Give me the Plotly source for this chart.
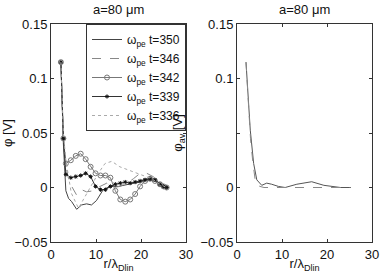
import plotly.graph_objects as go

# ---- data ----
r350 = [2.2, 2.75, 3.3, 3.9, 4.6, 5.7, 6.8, 7.9, 9.0, 10.1, 11.6, 13.1, 15.0, 16.9, 18.4, 19.9, 21.4, 22.9, 24.4, 25.7]
phi350 = [0.115, 0.040, -0.003, -0.010, -0.013, -0.020, -0.016, -0.015, -0.016, -0.012, -0.002, 0.001, 0.001, 0.003, 0.004, 0.005, 0.007, 0.006, 0.003, 0.0]

r346 = [2.2, 2.75, 3.4, 4.0, 4.6, 5.7, 6.8, 7.9, 9.4, 10.9, 12.4, 13.9, 15.3, 16.9, 18.3, 19.8, 21.3, 22.7, 24.2, 25.7]
phi346 = [0.115, 0.045, 0.018, 0.006, 0.001, -0.007, -0.002, -0.004, -0.003, 0.001, 0.004, 0.000, 0.001, 0.004, 0.008, 0.013, 0.013, 0.010, 0.005, 0.0]

r342 = [2.2, 2.75, 3.3, 4.4, 5.5, 6.6, 7.7, 8.8, 9.9, 11.0, 12.1, 13.2, 14.3, 15.4, 16.5, 17.6, 18.7, 19.8, 20.9, 22.0, 23.1, 24.2, 25.0, 25.7]
phi342 = [0.115, 0.045, 0.022, 0.025, 0.029, 0.031, 0.026, 0.019, 0.013, 0.011, 0.011, 0.009, -0.003, -0.011, -0.013, -0.011, -0.006, 0.001, 0.006, 0.008, 0.006, 0.003, 0.001, 0.0]

r339 = [2.2, 2.75, 3.3, 4.4, 5.5, 6.6, 7.7, 8.8, 9.9, 11.0, 12.1, 13.2, 14.3, 15.4, 16.5, 17.6, 18.7, 19.8, 20.9, 22.0, 23.1, 24.2, 25.0, 25.7]
phi339 = [0.115, 0.045, 0.012, 0.009, 0.010, 0.011, 0.013, 0.010, 0.001, -0.002, -0.002, 0.001, 0.003, 0.004, 0.005, 0.004, 0.005, 0.006, 0.007, 0.008, 0.007, 0.003, 0.001, 0.0]

r336 = [2.2, 2.75, 3.3, 4.5, 6.1, 7.2, 8.7, 10.5, 12.0, 13.5, 15.3, 17.2, 19.0, 20.5, 22.4, 24.2, 25.7]
phi336 = [0.115, 0.05, 0.025, -0.005, -0.019, -0.011, 0.001, 0.013, 0.022, 0.024, 0.019, 0.016, 0.013, 0.011, 0.008, 0.003, 0.0]

r_av = [2.0, 2.95, 3.7, 4.4, 5.5, 6.6, 7.7, 9.2, 10.7, 13.3, 16.6, 19.3, 23.0, 24.8, 25.3]
phi_av = [0.115, 0.0526, 0.022, 0.007, 0.002, 0.004, 0.003, 0.001, 0.000, 0.003, 0.0053, 0.002, 0.0, 0.0, 0.0]

r_av2 = [2.0, 3.0, 3.5, 4.1, 4.6, 5.1, 6.0, 10.0, 15.0, 20.0, 25.0]
phi_av2 = [0.115, 0.045, 0.024, 0.005, 0.002, 0.001, 0.0, 0.0, 0.0, 0.0, 0.0]

x_ticks = [0, 10, 20, 30]
y_ticks = [-0.05, 0, 0.05, 0.1, 0.15]
y_ticklabels = ["\u22120.05", "0", "0.05", "0.1", "0.15"]
y_ticklabels_right = ["\u22120.05", "0", "", "0.1", "0.15"]  # 0.05 hidden under the axis title
legend_names = ["\u03c9<sub>pe</sub> t=350", "\u03c9<sub>pe</sub> t=346", "\u03c9<sub>pe</sub> t=342",
                "\u03c9<sub>pe</sub> t=339", "\u03c9<sub>pe</sub> t=336"]

FONT = "Liberation Sans, Arial, sans-serif"
FS = 13
TXT = "#111111"
fig = go.Figure()

fig.add_trace(go.Scatter(x=r350, y=phi350, mode="lines", name=legend_names[0],
                         line=dict(color="#444444", width=1)))
fig.add_trace(go.Scatter(x=r346, y=phi346, mode="lines", name=legend_names[1],
                         line=dict(color="#888888", width=1, dash="dash")))
fig.add_trace(go.Scatter(x=r342, y=phi342, mode="lines+markers", name=legend_names[2],
                         line=dict(color="#777777", width=1),
                         marker=dict(symbol="circle-open", size=5, color="#777777", line=dict(width=1))))
fig.add_trace(go.Scatter(x=r339, y=phi339, mode="lines+markers", name=legend_names[3],
                         line=dict(color="#333333", width=1),
                         marker=dict(symbol="asterisk-open", size=3.5, color="#111111", line=dict(width=1))))
fig.add_trace(go.Scatter(x=r336, y=phi336, mode="lines", name=legend_names[4],
                         line=dict(color="#aaaaaa", width=1, dash="dot")))

fig.add_trace(go.Scatter(x=r_av, y=phi_av, mode="lines", showlegend=False,
                         line=dict(color="#555555", width=1), xaxis="x2", yaxis="y2"))
fig.add_trace(go.Scatter(x=r_av2, y=phi_av2, mode="lines", showlegend=False,
                         line=dict(color="#888888", width=1, dash="dash"), xaxis="x2", yaxis="y2"))

axcommon = dict(showgrid=False, zeroline=False, showline=True, linecolor="#333333", linewidth=1,
                mirror="ticks", ticks="inside", ticklen=3, tickcolor="#333333", automargin=False,
                tickfont=dict(family=FONT, size=FS, color=TXT))

xt = dict(title=dict(text="r/\u03bb<sub>Dlin</sub>", font=dict(family=FONT, size=FS, color=TXT), standoff=0),
          range=[0, 30], tickvals=x_ticks, ticktext=[str(v) for v in x_ticks])

fig.update_layout(
    width=382, height=273,
    margin=dict(l=0, r=0, t=0, b=0),
    paper_bgcolor="white", plot_bgcolor="white",
    xaxis=dict(domain=[51/382, 186/382], anchor="y", **xt, **axcommon),
    yaxis=dict(domain=[1-242/273, 1-24/273], anchor="x", range=[-0.05, 0.15],
               tickvals=y_ticks, ticktext=y_ticklabels, **axcommon,
               title=dict(text="\u03c6 [V]", font=dict(family=FONT, size=FS, color=TXT), standoff=2)),
    xaxis2=dict(domain=[237/382, 372/382], anchor="y2", **xt, **axcommon),
    yaxis2=dict(domain=[1-242/273, 1-24/273], anchor="x2", range=[-0.05, 0.15],
                tickvals=y_ticks, ticktext=y_ticklabels_right, **axcommon,
                title=dict(text="\u03c6<sub>av</sub> [V]", font=dict(family=FONT, size=FS, color=TXT), standoff=14)),
    legend=dict(x=186/382, y=1-24/273, xanchor="right", yanchor="top",
                bgcolor="white", bordercolor="#333333", borderwidth=1,
                font=dict(family=FONT, size=12, color=TXT),
                itemwidth=30, tracegroupgap=0, entrywidth=66, entrywidthmode="pixels"),
    showlegend=True,
    annotations=[
        dict(text="a=80 \u03bcm", x=(51+186)/2/382, y=1-10/273, xref="paper", yref="paper",
             xanchor="center", yanchor="middle",
             showarrow=False, font=dict(family=FONT, size=FS, color=TXT)),
        dict(text="a=80 \u03bcm", x=(237+372)/2/382, y=1-10/273, xref="paper", yref="paper",
             xanchor="center", yanchor="middle",
             showarrow=False, font=dict(family=FONT, size=FS, color=TXT)),
    ],
)

fig.write_html("out.html", config={"displayModeBar": False},
               post_script="document.body.style.margin='0px';document.body.style.overflow='hidden';")
